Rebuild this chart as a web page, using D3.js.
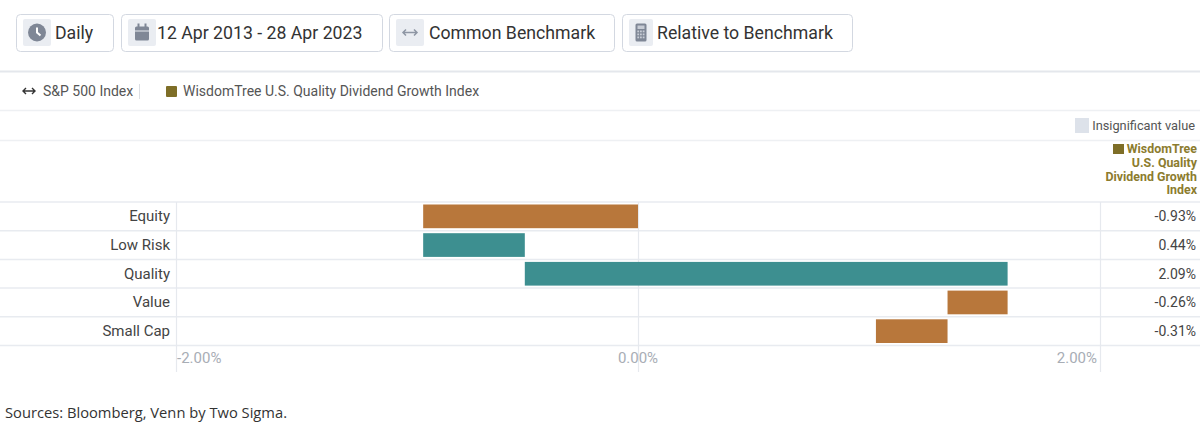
<!DOCTYPE html>
<html>
<head>
<meta charset="utf-8">
<script src="https://cdn.jsdelivr.net/npm/d3@7"></script>
<style>
  body { margin: 0; background: #fff; }
  svg { display: block; font-family: Roboto, "Noto Sans", sans-serif; }
</style>
</head>
<body>
<div id="chart"></div>
<script>
// factor contributions, relative to benchmark (%)
const categories = ["Equity", "Low Risk", "Quality", "Value", "Small Cap"];
const contributions = [-0.93, 0.44, 2.09, -0.26, -0.31];
const valueLabels = ["-0.93%", "0.44%", "2.09%", "-0.26%", "-0.31%"];
const xTicks = [-2, 0, 2];
const tickLabels = ["-2.00%", "0.00%", "2.00%"];
const buttons = ["Daily", "12 Apr 2013 - 28 Apr 2023", "Common Benchmark", "Relative to Benchmark"];
const seriesName = "WisdomTree U.S. Quality Dividend Growth Index";
const benchmarkName = "S&P 500 Index";
const headerLines = ["WisdomTree", "U.S. Quality", "Dividend Growth", "Index"];

const w = 1200, h = 432;
const posColor = "#3d8f90", negColor = "#b8773b", olive = "#7e6e27";
const lineColor = "#e8ebf0";

const svg = d3.select("#chart").append("svg")
    .attr("width", w)
    .attr("height", h);

// ---- top toolbar buttons
const btnX = [16, 121, 389, 622];
const btnW = [97, 261, 225, 230];
const btnText = [39, 36, 40, 35];
const iconW = [28, 28, 28, 24];
buttons.forEach(function(label, i){
    let g = svg.append("g").attr("transform", "translate(" + btnX[i] + ",14)");
    g.append("rect")
        .attr("x", 0.5).attr("y", 0.5)
        .attr("width", btnW[i]).attr("height", 37)
        .attr("rx", 4)
        .attr("fill", "#fff")
        .attr("stroke", "#d3d8e1");
    g.append("rect")
        .attr("x", 7).attr("y", 5)
        .attr("width", iconW[i]).attr("height", 27)
        .attr("rx", 2)
        .attr("fill", "#eaedf2");
    let ic = g.append("g").attr("transform", "translate(" + (7 + iconW[i] / 2) + ",18.5)").attr("fill", "#7f8796");
    if (i == 0){
        ic.append("circle").attr("r", 9);
        ic.append("path").attr("d", "M0,-5 V0 L3.5,3").attr("stroke", "#fff")
            .attr("stroke-width", 2).attr("fill", "none");
    } else if (i == 1){
        ic.append("rect").attr("x", -7).attr("y", -6).attr("width", 14).attr("height", 14).attr("rx", 1.5);
        ic.append("rect").attr("x", -4.5).attr("y", -9).attr("width", 2).attr("height", 4);
        ic.append("rect").attr("x", 2.5).attr("y", -9).attr("width", 2).attr("height", 4);
        ic.append("rect").attr("x", -7).attr("y", -2).attr("width", 14).attr("height", 1).attr("fill", "#eaedf2");
    } else if (i == 2){
        ic.append("path").attr("d", "M-7,0 H7 M-4,-3 L-7,0 L-4,3 M4,-3 L7,0 L4,3")
            .attr("stroke", "#8e96a4").attr("stroke-width", 1.5).attr("fill", "none");
    } else {
        ic.append("rect").attr("x", -5.5).attr("y", -9).attr("width", 11).attr("height", 18).attr("rx", 1.5);
        ic.append("rect").attr("x", -3.5).attr("y", -7).attr("width", 7).attr("height", 3.5).attr("fill", "#c7ccd5");
        for (let r = 0; r < 3; r++){
            for (let c = 0; c < 3; c++){
                ic.append("rect").attr("x", -3.7 + c * 2.7).attr("y", -2 + r * 3)
                    .attr("width", 1.8).attr("height", 1.8).attr("fill", "#c7ccd5");
            }
        }
    }
    g.append("text")
        .attr("x", btnText[i]).attr("y", 25)
        .attr("font-size", 17.7)
        .attr("fill", "#333")
        .text(label);
});

// ---- separators
[71, 110, 140].forEach(function(y){
    svg.append("line")
        .attr("x1", 0).attr("x2", w)
        .attr("y1", y + 0.5).attr("y2", y + 0.5)
        .attr("stroke", y == 71 ? "#e4e7ec" : "#eef0f3")
        .attr("stroke-width", y == 71 ? 2 : 1.5);
});

// ---- legend row
svg.append("path")
    .attr("d", "M23,91 H35 M26,88 L23,91 L26,94 M32,88 L35,91 L32,94")
    .attr("stroke", "#333").attr("stroke-width", 1.4).attr("fill", "none");
svg.append("text")
    .attr("x", 43).attr("y", 96)
    .attr("font-size", 14).attr("fill", "#555")
    .text(benchmarkName);
svg.append("line")
    .attr("x1", 139.5).attr("x2", 139.5).attr("y1", 84).attr("y2", 99)
    .attr("stroke", "#dcdfe4");
svg.append("rect")
    .attr("x", 166).attr("y", 86).attr("width", 11).attr("height", 11).attr("rx", 1)
    .attr("fill", olive);
svg.append("text")
    .attr("x", 183).attr("y", 96)
    .attr("font-size", 14).attr("fill", "#555")
    .text(seriesName);

// ---- insignificant legend
svg.append("rect")
    .attr("x", 1075).attr("y", 118).attr("width", 14).attr("height", 15)
    .attr("fill", "#dde2ea");
svg.append("text")
    .attr("x", 1195).attr("y", 130)
    .attr("text-anchor", "end")
    .attr("font-size", 12.8).attr("fill", "#555")
    .text("Insignificant value");

// ---- column header
svg.append("rect")
    .attr("x", 1113).attr("y", 144).attr("width", 11).attr("height", 10)
    .attr("fill", olive);
svg.selectAll(".hdr")
    .data(headerLines)
    .enter()
    .append("text")
    .attr("class", "hdr")
    .attr("x", 1197)
    .attr("y", function(d, i){ return 153 + i * 13.8; })
    .attr("text-anchor", "end")
    .attr("font-size", 12.4)
    .attr("font-weight", "bold")
    .attr("fill", "#8c7c2e")
    .text(function(d){ return d; });

// ---- waterfall
let running = 0;
const dataset = categories.map(function(c, i){
    let start = running;
    running += contributions[i];
    return { name: c, value: contributions[i], start: start, end: running, label: valueLabels[i] };
});

const xScale = d3.scaleLinear()
    .domain([-2, 2])
    .range([176, 1100]);
const yScale = d3.scaleBand()
    .domain(categories)
    .range([202, 345.5])
    .padding(0);

// row lines
const rowEdges = categories.map(function(c){ return yScale(c); }).concat([345.5]);
svg.selectAll(".rowline")
    .data(rowEdges)
    .enter()
    .append("line")
    .attr("class", "rowline")
    .attr("x1", 0).attr("x2", w)
    .attr("y1", function(d){ return d; })
    .attr("y2", function(d){ return d; })
    .attr("stroke", lineColor)
    .attr("stroke-width", 1.5);

// vertical grid
svg.selectAll(".grid")
    .data(xTicks)
    .enter()
    .append("line")
    .attr("class", "grid")
    .attr("x1", function(d){ return xScale(d) + 0.5; })
    .attr("x2", function(d){ return xScale(d) + 0.5; })
    .attr("y1", 202).attr("y2", 372)
    .attr("stroke", "#e6e9ee")
    .attr("stroke-width", 1.2);

// bars
svg.selectAll(".bar")
    .data(dataset)
    .enter()
    .append("rect")
    .attr("class", "bar")
    .attr("x", function(d){ return xScale(Math.min(d.start, d.end)); })
    .attr("width", function(d){ return Math.abs(xScale(d.end) - xScale(d.start)); })
    .attr("y", function(d){ return yScale(d.name) + 2.5; })
    .attr("height", yScale.bandwidth() - 5)
    .attr("fill", function(d){ return d.value >= 0 ? posColor : negColor; });

// row labels
svg.selectAll(".rlabel")
    .data(dataset)
    .enter()
    .append("text")
    .attr("class", "rlabel")
    .attr("x", 170)
    .attr("y", function(d){ return yScale(d.name) + yScale.bandwidth() / 2 + 5; })
    .attr("text-anchor", "end")
    .attr("font-size", 15)
    .attr("fill", "#444")
    .text(function(d){ return d.name; });

// value column
svg.selectAll(".vlabel")
    .data(dataset)
    .enter()
    .append("text")
    .attr("class", "vlabel")
    .attr("x", 1196)
    .attr("y", function(d){ return yScale(d.name) + yScale.bandwidth() / 2 + 5; })
    .attr("text-anchor", "end")
    .attr("font-size", 14)
    .attr("fill", "#444")
    .text(function(d){ return d.label; });

// x tick labels
svg.selectAll(".tick")
    .data(xTicks)
    .enter()
    .append("text")
    .attr("class", "tick")
    .attr("x", function(d, i){
        if (i == 0) return xScale(d) + 1;
        if (i == xTicks.length - 1) return xScale(d) - 3;
        return xScale(d);
    })
    .attr("y", 363)
    .attr("text-anchor", function(d, i){
        if (i == 0) return "start";
        if (i == xTicks.length - 1) return "end";
        return "middle";
    })
    .attr("font-size", 15)
    .attr("fill", "#a8adb5")
    .text(function(d, i){ return tickLabels[i]; });

// source note
svg.append("text")
    .attr("x", 5).attr("y", 418)
    .attr("font-family", "'Open Sans', sans-serif")
    .attr("font-size", 15)
    .attr("fill", "#333")
    .attr("textLength", 282)
    .attr("lengthAdjust", "spacingAndGlyphs")
    .text("Sources: Bloomberg, Venn by Two Sigma.");
</script>
</body>
</html>
